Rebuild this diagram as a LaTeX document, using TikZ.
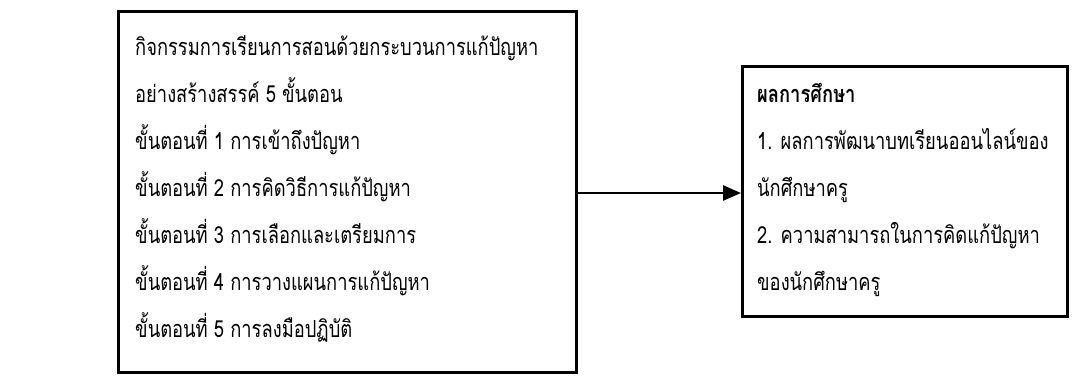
\documentclass[tikz,border=0pt]{standalone}
\usepackage{fontspec}
\newfontfamily\thaifont[Script=Thai,FakeStretch=0.78]{Loma}
\usetikzlibrary{arrows.meta}
\tikzset{
  frame/.style={draw=black, line width=2.6pt, inner sep=0pt},
  row/.style={inner sep=0pt, anchor=base west, font=\thaifont\fontsize{23.5}{28}\selectfont},
  conn/.style={line width=2.6pt, -{Triangle[length=18pt,width=15pt]}}
}
\begin{document}
\begin{tikzpicture}[x=1pt,y=-1pt]
\useasboundingbox (0,0) rectangle (1086,376);
\node[frame, minimum width=458pt, minimum height=361pt, anchor=north west] (L) at (117,10) {};
\node[frame, minimum width=325pt, minimum height=250pt, anchor=north west] (R) at (741,65) {};
\node[row] (l1) at (135,55)  {กิจกรรมการเรียนการสอนด้วยกระบวนการแก้ปัญหา};
\node[row] (l2) at (135,102) {อย่างสร้างสรรค์ 5 ขั้นตอน};
\node[row] (l3) at (135,149) {ขั้นตอนที่ 1 การเข้าถึงปัญหา};
\node[row] (l4) at (135,196) {ขั้นตอนที่ 2 การคิดวิธีการแก้ปัญหา};
\node[row] (l5) at (135,243) {ขั้นตอนที่ 3 การเลือกและเตรียมการ};
\node[row] (l6) at (135,290) {ขั้นตอนที่ 4 การวางแผนการแก้ปัญหา};
\node[row] (l7) at (135,337) {ขั้นตอนที่ 5 การลงมือปฏิบัติ};
\node[row] (r1) at (757,102) {\textbf{ผลการศึกษา}};
\node[row] (r2) at (757,149) {1. ผลการพัฒนาบทเรียนออนไลน์ของ};
\node[row] (r3) at (757,196) {นักศึกษาครู};
\node[row] (r4) at (757,243) {2. ความสามารถในการคิดแก้ปัญหา};
\node[row] (r5) at (757,290) {ของนักศึกษาครู};
\coordinate (a) at (L.east |- 0,193);
\draw[conn] (a) -- (R.west |- a);
\end{tikzpicture}
\end{document}
